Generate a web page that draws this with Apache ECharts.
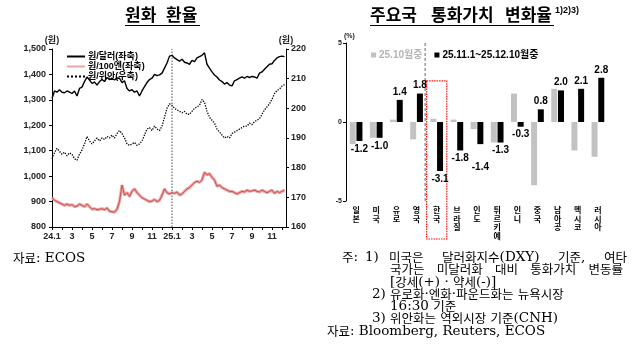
<!DOCTYPE html>
<html><head><meta charset="utf-8">
<script src="https://cdn.jsdelivr.net/npm/echarts@6/dist/echarts.min.js"></script>
<style>html,body{margin:0;padding:0;background:#fff}#c{width:640px;height:361px}</style>
</head><body><div id="c"></div>
<script>
// ---------- left chart data (quarter-month steps from 2024.1) ----------
const xTickLabels = ['24.1','','3','','5','','7','','9','','11','','25.1','','3','','5','','7','','9','','11',''];
const usd = [
 1305,1335,1330,1340, 1330,1328,1335,1330, 1325,1335,1315,1345, 1350,1372,1390,1378,
 1365,1370,1358,1372, 1380,1372,1388,1380, 1385,1378,1386,1385, 1368,1375,1345,1335,
 1340,1330,1335,1315, 1335,1352,1368,1380, 1385,1400,1395,1398, 1405,1425,1445,1472,
 1475,1465,1458,1452, 1460,1448,1445,1440, 1455,1450,1465,1470, 1475,1485,1440,1425,
 1410,1398,1390,1378, 1372,1362,1368,1358, 1355,1375,1380,1385, 1390,1385,1392,1388,
 1392,1390,1385,1405, 1410,1420,1430,1440, 1442,1455,1465,1470, 1472,1470
];
const jpy = [
 915,905,900,895, 890,885,890,885, 888,880,882,890, 885,880,890,880,
 870,872,868,870, 872,868,875,862, 860,858,870,900, 965,925,935,920,
 940,950,935,925, 915,910,905,900, 902,908,900,905, 925,950,935,930,
 935,932,938,925, 930,940,950,955, 965,975,980,975, 985,1015,1005,1010,
 995,985,960,965, 955,950,945,940, 940,935,930,935, 940,938,945,940,
 942,945,940,938, 945,940,935,940, 945,932,940,935, 940,945
];
const cny = [
 183,185,186.5,185.5, 184.5,185.2,184,185, 184.5,183,182.5,184.5, 186,188,190.5,189,
 188,189,190,189, 190,189.5,190.5,190, 191,190,191.5,192.5, 191.5,190,188,187.5,
 188,188.5,187.5,188, 189,191,193,193.5, 192.5,194,193,192.5, 194,197,200,201.5,
 201,200,199.5,199, 198.5,199,198,198, 199,200,200.5,201, 203,202,199,197,
 196,195,193,192, 191,190,190.5,190, 191.5,192,192.5,193, 193.5,194,194,195,
 194.5,195.5,196,196.5, 198,199.5,200.5,201.5, 203,205,206,206.5, 207.5,208
];
// ---------- right chart data ----------
const countries = ['일본','미국','유로','영국','한국','브라질','인도','튀르키예','인니','중국','남아공','멕시코','러시아'];
const octChange = [-1.4,-1.0,0.15,-1.1,0.2,0.15,-0.45,-1.3,1.8,-4.0,2.1,-1.8,-2.2];
const recentChange = [-1.2,-1.0,1.4,1.8,-3.1,-1.8,-1.4,-1.3,-0.3,0.8,2.0,2.1,2.8];

const FONT = "'Liberation Sans','Noto Sans CJK KR',sans-serif";
const KFONT = "12.5px 'Noto Sans CJK KR'";
const LFONT = "13.5px 'DejaVu Serif'";
const TITLE_FONT = "bold 17px 'Noto Sans CJK KR'";
const toPts = arr => arr.map((v,i)=>[i/4, v]);

// ---- mixed-script note text helpers ----
const mctx = document.createElement('canvas').getContext('2d');
const HANGUL = /([\u1100-\u11FF\u3130-\u318F\uAC00-\uD7AF]+)/;
function runs(s){ return s.split(HANGUL).filter(t=>t.length).map(t=>({t:t, k:HANGUL.test(t)})); }
function width(s){ return runs(s).reduce((w,r)=>{ mctx.font = r.k?KFONT:LFONT; return w + mctx.measureText(r.t).width; },0); }
function noteText(x, y, s){
  return {type:'text', x:x, y:y, style:{
    text: runs(s).map(r=>'{'+(r.k?'k':'l')+'|'+r.t+'}').join(''),
    rich:{k:{font:KFONT, fill:'#000', verticalAlign:'middle', lineHeight:13}, l:{font:LFONT, fill:'#000', verticalAlign:'middle', lineHeight:13}},
    align:'left', verticalAlign:'middle'}};
}
function justified(x0, x1, y, words){
  const ws = words.map(width), total = ws.reduce((a,b)=>a+b,0);
  const gap = words.length>1 ? (x1-x0-total)/(words.length-1) : 0;
  let x = x0; const out = [];
  words.forEach((w,i)=>{ out.push(noteText(x, y, w)); x += ws[i] + gap; });
  return out;
}
function txt(x, y, s, font){
  return {type:'text', x:x, y:y, style:{text:s, font:font, fill:'#000', align:'left', verticalAlign:'middle'}};
}

const chart = echarts.init(document.getElementById('c'), null, {renderer:'canvas'});
const axisCommon = {
  axisLine:{show:true, lineStyle:{color:'#000', width:1}},
  axisTick:{show:true, length:3, lineStyle:{color:'#000'}},
  splitLine:{show:false}
};
const option = {
  animation:false,
  textStyle:{fontFamily:FONT},
  grid:[
    {left:52, top:49, width:234, height:178},
    {left:346, top:43, width:262, height:158}
  ],
  xAxis:[
    Object.assign({type:'value', gridIndex:0, min:0, max:23.4, interval:1,
      axisLabel:{formatter:v=>xTickLabels[v]||'', fontSize:9, fontWeight:'bold', color:'#222', margin:5, showMaxLabel:false}}, axisCommon),
    {type:'category', gridIndex:1, data:countries,
      axisLine:{show:false, onZero:false}, axisTick:{show:false}, splitLine:{show:false},
      axisLabel:{interval:0, formatter:v=>v.split('').join('\n'), fontSize:8, lineHeight:8.5, fontWeight:'bold', color:'#000', margin:6, verticalAlign:'top'}}
  ],
  yAxis:[
    Object.assign({type:'value', gridIndex:0, min:800, max:1500, interval:100, name:'(원)', nameGap:4,
      nameTextStyle:{fontSize:9, fontWeight:'bold', color:'#222'},
      axisLabel:{formatter:v=>v.toLocaleString('en-US'), fontSize:9, fontWeight:'bold', color:'#222', margin:6}}, axisCommon),
    Object.assign({type:'value', gridIndex:0, position:'right', min:160, max:220, interval:10, name:'(원)', nameGap:4,
      nameTextStyle:{fontSize:9, fontWeight:'bold', color:'#222'},
      axisLabel:{fontSize:9, fontWeight:'bold', color:'#222', margin:5}}, axisCommon),
    Object.assign({type:'value', gridIndex:1, min:-5, max:5, interval:5, name:'(%)', nameGap:0,
      nameTextStyle:{fontSize:7, fontWeight:'bold', color:'#222', align:'left', padding:[0,0,0,-2]},
      axisLabel:{fontSize:7, fontWeight:'bold', color:'#222', margin:4}}, axisCommon)
  ],
  legend:[
    {orient:'vertical', left:61, top:47, itemWidth:18, itemHeight:8, itemGap:1,
      itemStyle:{opacity:0},
      data:['원/달러(좌축)','원/100엔(좌축)','원/위안(우축)'],
      textStyle:{fontSize:9, fontWeight:'bold', color:'#000', padding:[0,0,0,-2]}},
    {left:366, top:45, itemWidth:5, itemHeight:5, icon:'rect', itemGap:12,
      data:[{name:'25.10월중', textStyle:{color:'#b4b4b4'}},{name:'25.11.1~25.12.10월중', textStyle:{color:'#000'}}],
      textStyle:{fontSize:10, fontWeight:'bold', padding:[0,0,0,-2]}}
  ],
  series:[
    {name:'원/달러(좌축)', type:'line', xAxisIndex:0, yAxisIndex:0, data:toPts(usd), symbol:'none', z:5,
      lineStyle:{color:'#000', width:1.4}, itemStyle:{color:'#000'},
      markLine:{silent:true, symbol:'none', label:{show:false}, data:[{xAxis:12}],
        lineStyle:{color:'#888', type:'dotted', width:1.5}}},
    {name:'원/100엔(좌축)', type:'line', xAxisIndex:0, yAxisIndex:0, data:toPts(jpy), symbol:'none',
      lineStyle:{color:'#eda4a4', width:3}, itemStyle:{color:'#eda4a4'}},
    {name:'jpyCore', type:'line', xAxisIndex:0, yAxisIndex:0, data:toPts(jpy), symbol:'none',
      lineStyle:{color:'#c23b3b', width:0.8}, itemStyle:{color:'#c23b3b'}},
    {name:'원/위안(우축)', type:'line', xAxisIndex:0, yAxisIndex:1, data:toPts(cny), symbol:'none',
      lineStyle:{color:'#000', width:1.3, type:'dotted'}, itemStyle:{color:'#000'}},
    {name:'25.10월중', type:'bar', xAxisIndex:1, yAxisIndex:2, data:octChange, barWidth:6, barGap:'12%',
      itemStyle:{color:'#c2c2c2'}},
    {name:'25.11.1~25.12.10월중', type:'bar', xAxisIndex:1, yAxisIndex:2, barWidth:6, itemStyle:{color:'#000'},
      data:recentChange.map((v,i)=>({value:v, label:{show:true, position:v>=0?'top':'bottom',
        distance: countries[i]==='인도' ? 18 : 3,
        formatter:()=>v.toFixed(1), fontSize:10, fontWeight:'bold', color:'#000'}}))}
  ],
  graphic:[].concat(
    [
      txt(125, 15, '원화', TITLE_FONT),
      txt(166, 15, '환율', TITLE_FONT),
      {type:'line', shape:{x1:125, y1:25.5, x2:200, y2:25.5}, style:{stroke:'#000', lineWidth:1}},
      txt(370, 15, '주요국', TITLE_FONT),
      txt(431, 15, '통화가치', TITLE_FONT),
      txt(505, 15, '변화율', TITLE_FONT),
      txt(555, 11, '1)2)3)', "bold 9px 'Liberation Sans'"),
      {type:'line', shape:{x1:370, y1:25.5, x2:554, y2:25.5}, style:{stroke:'#000', lineWidth:1}},
      noteText(13, 258, '자료: ECOS'),
      noteText(342, 257, '주:'),
      noteText(365, 257, '1)')
    ],
    justified(389, 627, 257, ['미국은','달러화지수(DXY)','기준,','여타']),
    justified(390, 623, 269.5, ['국가는','미달러화','대비','통화가치','변동률']),
    [noteText(390, 282, '[강세(+) · 약세(-)]'),
     noteText(372, 294, '2)'),
     noteText(390, 294, '유로화·엔화·파운드화는 뉴욕시장'),
     noteText(390, 306.5, '16:30 기준'),
     noteText(372, 318.5, '3)'),
     noteText(390, 318.5, '위안화는 역외시장 기준(CNH)'),
     noteText(327, 331, '자료: Bloomberg, Reuters, ECOS')]
  )
};
chart.setOption(option);

// annotations positioned from the category axis
const bw = 262 / countries.length;
const kr = chart.convertToPixel({xAxisIndex:1, yAxisIndex:2}, ['한국', 2.6]);
const top5 = chart.convertToPixel({yAxisIndex:2}, 5);
const bot5 = chart.convertToPixel({yAxisIndex:2}, -5);
const extra = [
  {type:'rect', shape:{x:kr[0]-bw/2, y:kr[1], width:bw, height:239-kr[1]},
    style:{fill:'none', stroke:'#ff1010', lineWidth:1.2, lineDash:[1.5,1]}},
  {type:'line', shape:{x1:kr[0]-bw/2-1.5, y1:top5, x2:kr[0]-bw/2-1.5, y2:bot5+2},
    style:{stroke:'#666', lineWidth:1, lineDash:[3,2]}}
];
chart.setOption({graphic: option.graphic.concat(extra)});
</script>
</body></html>
